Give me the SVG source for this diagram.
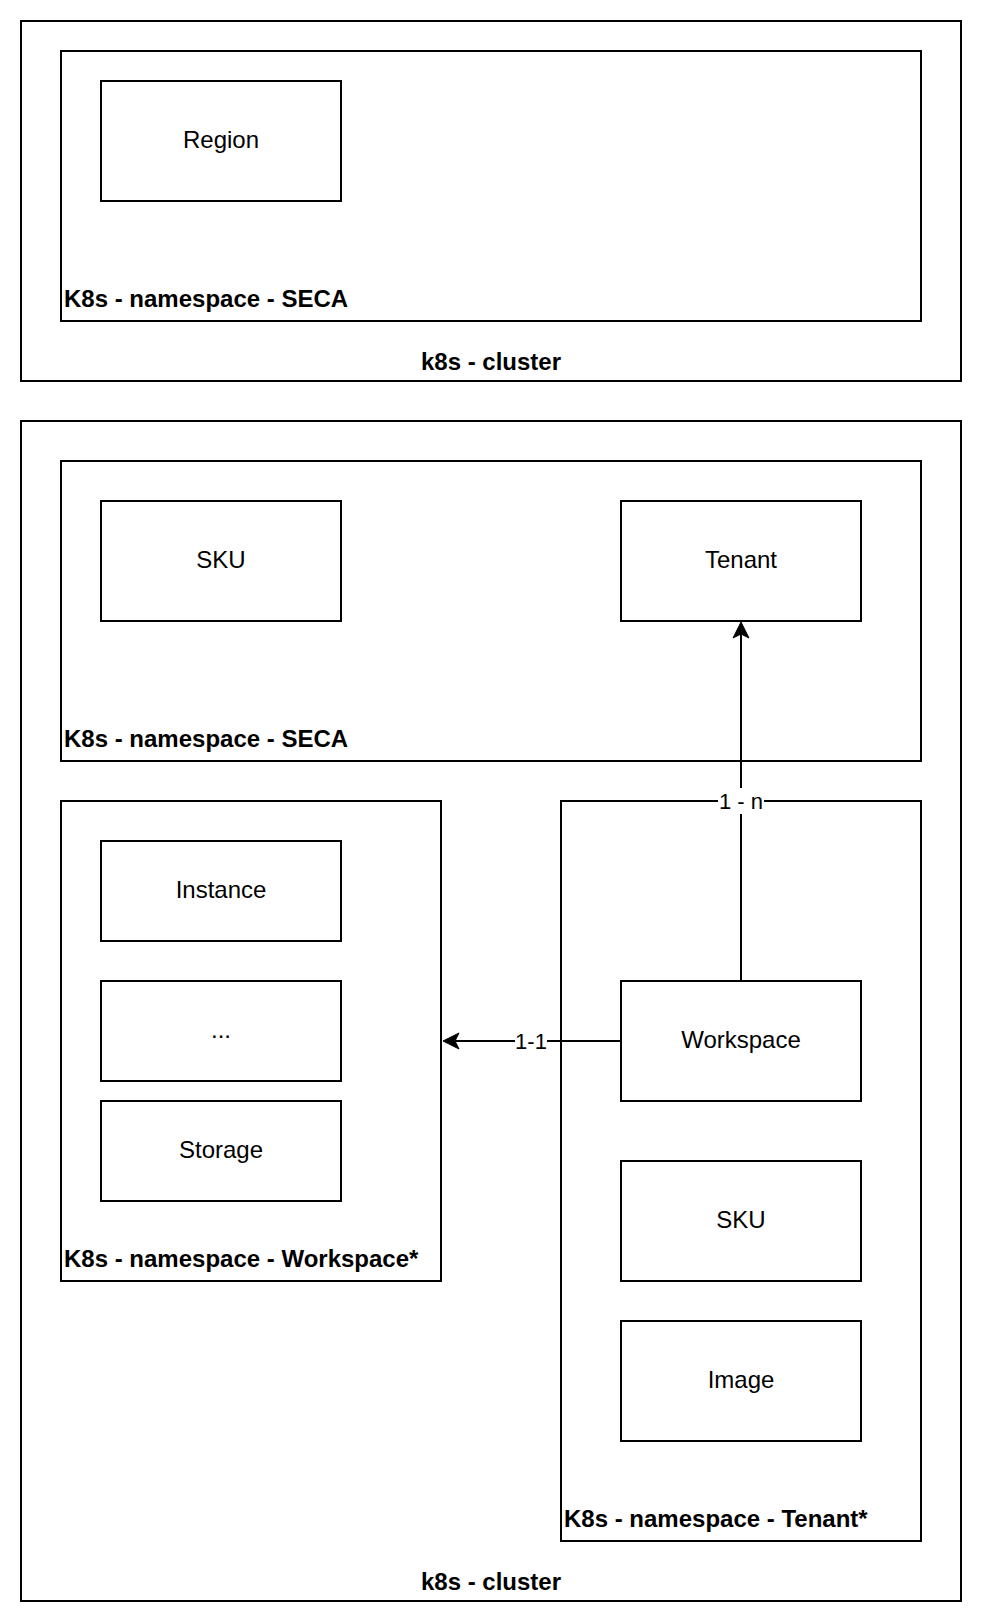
<svg xmlns="http://www.w3.org/2000/svg" width="982" height="1622" viewBox="0 0 982 1622">
<style>
.box{fill:#ffffff;stroke:#000000;stroke-width:2}
.lbl{font-family:"Liberation Sans",Arial,Helvetica,sans-serif;font-size:24px;fill:#000000;text-anchor:middle}
.ns{font-family:"Liberation Sans",Arial,Helvetica,sans-serif;font-size:24px;font-weight:bold;fill:#000000;text-anchor:start}
.cl{font-family:"Liberation Sans",Arial,Helvetica,sans-serif;font-size:24px;font-weight:bold;fill:#000000;text-anchor:middle}
.edge{fill:none;stroke:#000000;stroke-width:2}
.elbl{font-family:"Liberation Sans",Arial,Helvetica,sans-serif;font-size:22px;fill:#000000;text-anchor:middle}
</style>
<defs>
<marker id="arrow" markerUnits="userSpaceOnUse" viewBox="-1 -10 19 20" markerWidth="19" markerHeight="20" refX="4" refY="0" orient="auto">
<path d="M16,0 L0,-8 L4,0 L0,8 Z" fill="#000000" stroke="#000000" stroke-width="1"/>
</marker>
</defs>
<rect width="982" height="1622" fill="#ffffff"/>

<g id="cluster1">
<rect class="box" x="21" y="21" width="940" height="360"/>
<text class="cl" x="491" y="370">k8s - cluster</text>
</g>
<g id="ns-seca-1">
<rect class="box" x="61" y="51" width="860" height="270"/>
<text class="ns" x="64" y="307">K8s - namespace - SECA</text>
</g>
<g id="region">
<rect class="box" x="101" y="81" width="240" height="120"/>
<text class="lbl" x="221" y="148">Region</text>
</g>

<g id="cluster2">
<rect class="box" x="21" y="421" width="940" height="1180"/>
<text class="cl" x="491" y="1590">k8s - cluster</text>
</g>
<g id="ns-seca-2">
<rect class="box" x="61" y="461" width="860" height="300"/>
<text class="ns" x="64" y="747">K8s - namespace - SECA</text>
</g>
<g id="sku-seca">
<rect class="box" x="101" y="501" width="240" height="120"/>
<text class="lbl" x="221" y="568">SKU</text>
</g>
<g id="tenant">
<rect class="box" x="621" y="501" width="240" height="120"/>
<text class="lbl" x="741" y="568">Tenant</text>
</g>

<g id="ns-workspace">
<rect class="box" x="61" y="801" width="380" height="480"/>
<text class="ns" x="64" y="1267">K8s - namespace - Workspace*</text>
</g>
<g id="instance">
<rect class="box" x="101" y="841" width="240" height="100"/>
<text class="lbl" x="221" y="898">Instance</text>
</g>
<g id="ellipsis">
<rect class="box" x="101" y="981" width="240" height="100"/>
<text class="lbl" x="221" y="1038">...</text>
</g>
<g id="storage">
<rect class="box" x="101" y="1101" width="240" height="100"/>
<text class="lbl" x="221" y="1158">Storage</text>
</g>

<g id="ns-tenant">
<rect class="box" x="561" y="801" width="360" height="740"/>
<text class="ns" x="564" y="1527">K8s - namespace - Tenant*</text>
</g>
<g id="workspace">
<rect class="box" x="621" y="981" width="240" height="120"/>
<text class="lbl" x="741" y="1048">Workspace</text>
</g>
<g id="sku-tenant">
<rect class="box" x="621" y="1161" width="240" height="120"/>
<text class="lbl" x="741" y="1228">SKU</text>
</g>
<g id="image">
<rect class="box" x="621" y="1321" width="240" height="120"/>
<text class="lbl" x="741" y="1388">Image</text>
</g>

<g id="connectors">
<path class="edge" d="M741,981 L741,634" marker-end="url(#arrow)"/>
<rect x="718" y="788" width="46" height="26" fill="#ffffff"/>
<text class="elbl" x="741" y="809">1 - n</text>
<path class="edge" d="M621,1041 L455,1041" marker-end="url(#arrow)"/>
<rect x="515" y="1028" width="32" height="26" fill="#ffffff"/>
<text class="elbl" x="531" y="1049">1-1</text>
</g>
</svg>
